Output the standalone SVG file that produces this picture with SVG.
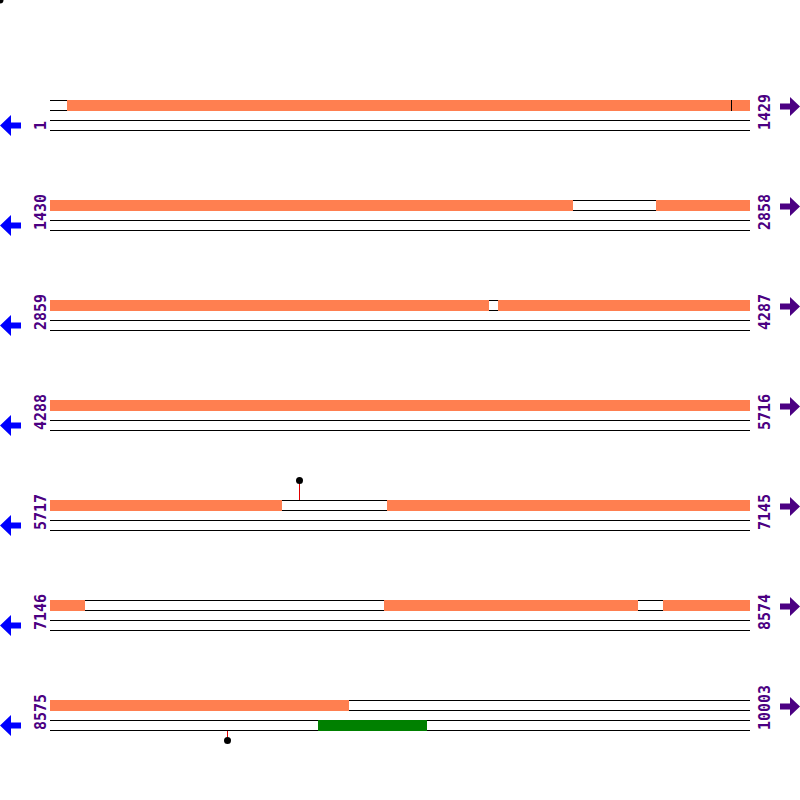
<svg xmlns="http://www.w3.org/2000/svg" width="800" height="800" viewBox="0 0 800 800">
<style>
.ln{stroke:#000;stroke-width:1;fill:none}
.or{fill:#FF7F50}
.gr{fill:#008000}
.lbl{font-family:"DejaVu Sans Mono",monospace;font-size:15px;font-weight:bold;fill:#4B0082}
.la{fill:#0000FF}
.ra{fill:#4B0082}
.pin{stroke:#E00000;stroke-width:1}
</style>
<defs>
<g id="tracks">
<line class="ln" x1="50" y1="100.5" x2="750" y2="100.5"/>
<line class="ln" x1="50" y1="110.5" x2="750" y2="110.5"/>
<line class="ln" x1="50" y1="120.5" x2="750" y2="120.5"/>
<line class="ln" x1="50" y1="130.5" x2="750" y2="130.5"/>
</g>
<polygon id="larrow" points="0,125.5 11,115 11,122.5 21,122.5 21,128.5 11,128.5 11,136"/>
<polygon id="rarrow" points="800,106.5 790,97 790,103.5 780,103.5 780,109.5 790,109.5 790,116"/>
</defs>
<circle cx="0" cy="0" r="3.5" fill="#000"/>
<g id="row1">
<use href="#tracks"/>
<rect class="or" x="67" y="100" width="664" height="11"/>
<rect class="or" x="732" y="100" width="18" height="11"/>
<line class="ln" x1="731.5" y1="100" x2="731.5" y2="111"/>
<text class="lbl" transform="translate(46,130) rotate(-90)">1</text>
<text class="lbl" transform="translate(770,130) rotate(-90)">1429</text>
<use class="la" href="#larrow"/>
<use class="ra" href="#rarrow"/>
</g>
<g id="row2" transform="translate(0,100)">
<use href="#tracks"/>
<rect class="or" x="50" y="100" width="523" height="11"/>
<rect class="or" x="656" y="100" width="94" height="11"/>
<text class="lbl" transform="translate(46,130) rotate(-90)">1430</text>
<text class="lbl" transform="translate(770,130) rotate(-90)">2858</text>
<use class="la" href="#larrow"/>
<use class="ra" href="#rarrow"/>
</g>
<g id="row3" transform="translate(0,200)">
<use href="#tracks"/>
<rect class="or" x="50" y="100" width="439" height="11"/>
<rect class="or" x="498" y="100" width="252" height="11"/>
<text class="lbl" transform="translate(46,130) rotate(-90)">2859</text>
<text class="lbl" transform="translate(770,130) rotate(-90)">4287</text>
<use class="la" href="#larrow"/>
<use class="ra" href="#rarrow"/>
</g>
<g id="row4" transform="translate(0,300)">
<use href="#tracks"/>
<rect class="or" x="50" y="100" width="700" height="11"/>
<text class="lbl" transform="translate(46,130) rotate(-90)">4288</text>
<text class="lbl" transform="translate(770,130) rotate(-90)">5716</text>
<use class="la" href="#larrow"/>
<use class="ra" href="#rarrow"/>
</g>
<g id="row5" transform="translate(0,400)">
<use href="#tracks"/>
<rect class="or" x="50" y="100" width="232" height="11"/>
<rect class="or" x="387" y="100" width="363" height="11"/>
<line class="pin" x1="299.5" y1="82" x2="299.5" y2="100"/>
<circle cx="299.5" cy="80.5" r="3.5" fill="#000"/>
<text class="lbl" transform="translate(46,130) rotate(-90)">5717</text>
<text class="lbl" transform="translate(770,130) rotate(-90)">7145</text>
<use class="la" href="#larrow"/>
<use class="ra" href="#rarrow"/>
</g>
<g id="row6" transform="translate(0,500)">
<use href="#tracks"/>
<rect class="or" x="50" y="100" width="35" height="11"/>
<rect class="or" x="384" y="100" width="254" height="11"/>
<rect class="or" x="663" y="100" width="87" height="11"/>
<text class="lbl" transform="translate(46,130) rotate(-90)">7146</text>
<text class="lbl" transform="translate(770,130) rotate(-90)">8574</text>
<use class="la" href="#larrow"/>
<use class="ra" href="#rarrow"/>
</g>
<g id="row7" transform="translate(0,600)">
<use href="#tracks"/>
<rect class="or" x="50" y="100" width="299" height="11"/>
<rect class="gr" x="318" y="120" width="109" height="11"/>
<line class="pin" x1="227.5" y1="131" x2="227.5" y2="138"/>
<circle cx="227.5" cy="140.5" r="3.5" fill="#000"/>
<text class="lbl" transform="translate(46,130) rotate(-90)">8575</text>
<text class="lbl" transform="translate(770,130) rotate(-90)">10003</text>
<use class="la" href="#larrow"/>
<use class="ra" href="#rarrow"/>
</g>
</svg>
